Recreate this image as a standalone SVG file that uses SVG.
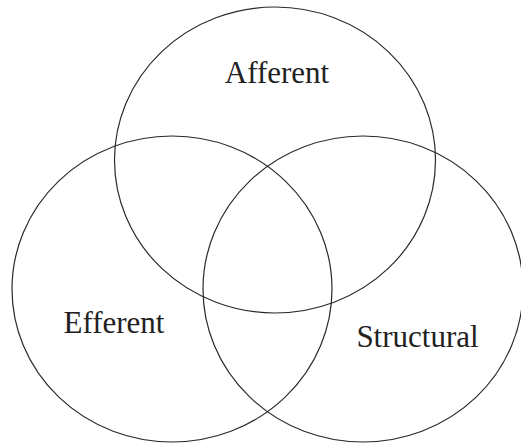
<svg xmlns="http://www.w3.org/2000/svg" width="521" height="444" viewBox="0 0 521 444">
<style>
.set{fill:none;stroke:#2a2a2a;stroke-width:1.2}
.lbl{font-family:"Liberation Serif","Times New Roman",serif;font-size:31px;fill:#222}
</style>
<rect width="521" height="444" fill="#fff"/>
<g id="afferent">
<ellipse class="set" cx="275" cy="160" rx="160.5" ry="153"/>
<text class="lbl" x="277" y="82.5" text-anchor="middle">Afferent</text>
</g>
<g id="efferent">
<ellipse class="set" cx="172" cy="289" rx="160" ry="153"/>
<text class="lbl" x="114" y="332.5" text-anchor="middle">Efferent</text>
</g>
<g id="structural">
<ellipse class="set" cx="363" cy="289" rx="160" ry="153"/>
<text class="lbl" x="417.5" y="346.5" text-anchor="middle">Structural</text>
</g>
<g id="connectors"></g>
</svg>
